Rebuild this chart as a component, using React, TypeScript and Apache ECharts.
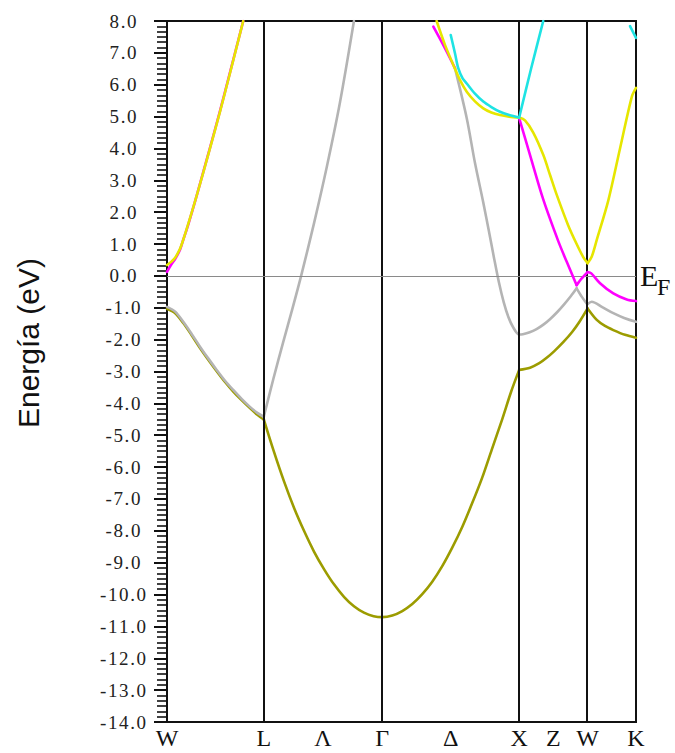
import { useEffect, useRef } from 'react';
import * as echarts from 'echarts';

// k-path positions (units of 2π/a) for W–L–Γ–X–W–K, with Λ, Δ, Z at segment midpoints
const kTicks = [0, 0.7071, 1.1401, 1.5731, 2.0731, 2.5731, 2.8231, 3.0731, 3.4267];
const kTickLabels = ['W', 'L', 'Λ', 'Γ', 'Δ', 'X', 'Z', 'W', 'K'];
const symmetryLines = [0.7071, 1.5731, 2.5731, 3.0731];
const K_MAX = 3.4267;

const E_MIN = -14;
const E_MAX = 8;

// Bands as [k, E(eV)] segments; segments split where the band has a kink
const oliveBand = [
  [[0, -1.03], [0.06, -1.17], [0.119, -1.48], [0.18, -1.86], [0.241, -2.26], [0.3, -2.62], [0.363, -2.99], [0.424, -3.33], [0.484, -3.63], [0.545, -3.9], [0.606, -4.15], [0.66, -4.36], [0.7071, -4.5]],
  [[0.7071, -4.5], [0.78, -5.5], [0.855, -6.45], [0.93, -7.3], [1.001, -8.0], [1.074, -8.65], [1.147, -9.2], [1.22, -9.68], [1.293, -10.07], [1.366, -10.37], [1.439, -10.57], [1.51, -10.68], [1.5731, -10.71], [1.646, -10.66], [1.719, -10.52], [1.792, -10.3], [1.865, -9.99], [1.938, -9.6], [2.011, -9.11], [2.084, -8.53], [2.157, -7.88], [2.23, -7.13], [2.303, -6.33], [2.373, -5.45], [2.449, -4.5], [2.513, -3.65], [2.5731, -2.95]],
  [[2.5731, -2.95], [2.653, -2.88], [2.72, -2.74], [2.774, -2.57], [2.83, -2.36], [2.895, -2.08], [2.96, -1.76], [3.015, -1.43], [3.0731, -1.02]],
  [[3.0731, -1.02], [3.14, -1.38], [3.2, -1.57], [3.261, -1.7], [3.346, -1.85], [3.4267, -1.94]],
];

const greyBand = [
  [[0, -0.97], [0.06, -1.12], [0.119, -1.44], [0.18, -1.82], [0.241, -2.22], [0.3, -2.58], [0.363, -2.95], [0.424, -3.29], [0.484, -3.58], [0.545, -3.86], [0.606, -4.11], [0.66, -4.3], [0.7071, -4.42]],
  [[0.7071, -4.42], [0.776, -3.25], [0.8475, -2.1], [0.917, -1.02], [0.98, 0], [1.074, 1.65], [1.169, 3.45], [1.264, 5.45], [1.366, 8.0]],
  [[2.104, 6.52], [2.19, 4.95], [2.25, 3.55], [2.311, 2.3], [2.35, 1.45], [2.39, 0.55], [2.425, -0.2], [2.46, -0.82], [2.495, -1.3], [2.53, -1.62], [2.5731, -1.84], [2.6, -1.83], [2.65, -1.77], [2.7, -1.67], [2.75, -1.53], [2.8, -1.35], [2.85, -1.14], [2.9, -0.9], [2.95, -0.64], [2.993, -0.39]],
  [[2.993, -0.39], [3.03, -0.65], [3.066, -0.86], [3.0731, -0.88]],
  [[3.0731, -0.88], [3.103, -0.81], [3.18, -0.98], [3.261, -1.17], [3.34, -1.32], [3.4267, -1.44]],
];

const magentaBand = [
  [[0, 0.13], [0.03, 0.35], [0.058, 0.52], [0.095, 0.82], [0.12, 1.15], [0.153, 1.58], [0.217, 2.52], [0.314, 4.02], [0.387, 5.17], [0.46, 6.38], [0.557, 8.0]],
  [[1.946, 7.82], [2.024, 7.2], [2.104, 6.52]],
  [[2.5731, 4.95], [2.652, 3.8], [2.749, 2.4], [2.858, 1.1], [2.92, 0.45], [2.993, -0.29]],
  [[2.993, -0.29], [3.03, -0.08], [3.0731, 0.12]],
  [[3.0731, 0.12], [3.1, 0.08], [3.164, -0.23], [3.261, -0.55], [3.359, -0.74], [3.4267, -0.79]],
];

const yellowBand = [
  [[0, 0.34], [0.03, 0.44], [0.058, 0.56], [0.095, 0.85], [0.12, 1.15], [0.153, 1.6], [0.217, 2.52], [0.314, 4.0], [0.387, 5.15], [0.46, 6.36], [0.557, 8.0]],
  [[1.97, 8.0], [2.031, 7.25], [2.092, 6.62], [2.14, 6.15], [2.19, 5.78], [2.25, 5.48], [2.311, 5.26], [2.37, 5.13], [2.433, 5.05], [2.5, 5.0], [2.5731, 4.97]],
  [[2.5731, 4.97], [2.6155, 4.88], [2.676, 4.5], [2.749, 3.8], [2.8, 3.15], [2.847, 2.55], [2.93, 1.6], [2.993, 1.0], [3.04, 0.6], [3.0731, 0.4]],
  [[3.0731, 0.4], [3.103, 0.6], [3.14, 1.13], [3.225, 2.38], [3.31, 4.0], [3.396, 5.62], [3.4267, 5.9]],
];

const cyanBand = [
  [[2.073, 7.56], [2.104, 6.99], [2.128, 6.52], [2.16, 6.2], [2.19, 6.04], [2.25, 5.72], [2.311, 5.47], [2.37, 5.3], [2.433, 5.15], [2.5, 5.05], [2.5731, 4.97]],
  [[2.5731, 4.97], [2.66, 6.5], [2.749, 8.0]],
  [[3.383, 7.84], [3.4267, 7.47]],
];

const bands = [
  { name: 'olive', color: '#9c9c00', width: 2.6, segments: oliveBand },
  { name: 'grey', color: '#b4b4b4', width: 2.6, segments: greyBand },
  { name: 'magenta', color: '#ff00ff', width: 2.6, segments: magentaBand },
  { name: 'yellow', color: '#e6e600', width: 2.6, segments: yellowBand },
  { name: 'cyan', color: '#1ee3e3', width: 2.6, segments: cyanBand },
];

const SERIF = "'Liberation Serif', 'Times New Roman', serif";
const SANS = "'Liberation Sans', Arial, sans-serif";

function buildOption() {
  const series: any[] = [];
  series.push({
    type: 'line',
    data: [],
    silent: true,
    z: 1,
    markLine: {
      silent: true,
      symbol: 'none',
      animation: false,
      label: { show: false },
      data: [
        ...symmetryLines.map((k) => ({ xAxis: k, lineStyle: { color: '#111', width: 2, type: 'solid' } })),
        { yAxis: 0, lineStyle: { color: '#8a8a8a', width: 1, type: 'solid' } },
      ],
    },
  });
  bands.forEach((band, bi) => {
    band.segments.forEach((seg) => {
      series.push({
        type: 'line',
        name: band.name,
        data: seg,
        showSymbol: false,
        smooth: 0.3,
        clip: true,
        z: 3 + bi,
        lineStyle: { color: band.color, width: band.width, cap: 'round', join: 'round' },
      });
    });
  });

  return {
    animation: false,
    backgroundColor: '#ffffff',
    grid: {
      left: 167,
      top: 21,
      right: 39,
      bottom: 31,
      show: true,
      borderColor: '#111',
      borderWidth: 2,
      backgroundColor: 'transparent',
    },
    xAxis: {
      type: 'value',
      min: 0,
      max: K_MAX,
      axisLine: { show: true, onZero: false, lineStyle: { color: '#111', width: 2 } },
      axisTick: { show: false },
      splitLine: { show: false },
      axisLabel: {
        customValues: kTicks,
        formatter: (v: number) => {
          const i = kTicks.findIndex((p) => Math.abs(p - v) < 1e-3);
          return i >= 0 ? kTickLabels[i] : '';
        },
        fontFamily: SERIF,
        fontSize: 24,
        color: '#111',
        margin: 4,
      },
    },
    yAxis: {
      type: 'value',
      min: E_MIN,
      max: E_MAX,
      interval: 1,
      axisLine: { show: true, onZero: false, lineStyle: { color: '#111', width: 2 } },
      axisTick: { show: true, length: 13, lineStyle: { color: '#111', width: 2 } },
      minorTick: { show: true, splitNumber: 6, length: 10, lineStyle: { color: '#111', width: 1.6 } },
      splitLine: { show: false },
      minorSplitLine: { show: false },
      axisLabel: {
        // each character set as its own rich span so the numbers get slightly open spacing
        formatter: (v: number) =>
          v
            .toFixed(1)
            .split('')
            .map((c) => `{d|${c}}`)
            .join(''),
        rich: {
          d: { fontFamily: SERIF, fontSize: 19, color: '#222', padding: [0, 0.8, 0, 0.8] },
        },
        fontFamily: SERIF,
        fontSize: 19,
        color: '#222',
        margin: 44,
        align: 'center',
      },
    },
    graphic: [
      {
        type: 'text',
        x: 28,
        y: 343,
        rotation: Math.PI / 2,
        style: {
          text: 'Energía (eV)',
          fontFamily: SANS,
          fontSize: 30,
          fill: '#111',
          align: 'center',
          verticalAlign: 'middle',
          shadowColor: 'rgba(0,0,0,0.35)',
          shadowBlur: 3,
          shadowOffsetX: 2,
        },
      },
      {
        type: 'text',
        x: 640,
        y: 275,
        style: { text: 'E', fontFamily: SERIF, fontSize: 30, fill: '#111', align: 'left', verticalAlign: 'middle' },
      },
      {
        type: 'text',
        x: 657,
        y: 287,
        style: { text: 'F', fontFamily: SERIF, fontSize: 24, fill: '#111', align: 'left', verticalAlign: 'middle' },
      },
    ],
    series,
  };
}

export default function App() {
  const ref = useRef<HTMLDivElement>(null);
  useEffect(() => {
    if (!ref.current) return;
    const chart = echarts.init(ref.current, null, { renderer: 'svg' });
    chart.setOption(buildOption() as any);
    return () => chart.dispose();
  }, []);
  return (
    <div
      ref={ref}
      style={{ position: 'fixed', left: 0, top: 0, width: 675, height: 753, background: '#fff' }}
    />
  );
}
